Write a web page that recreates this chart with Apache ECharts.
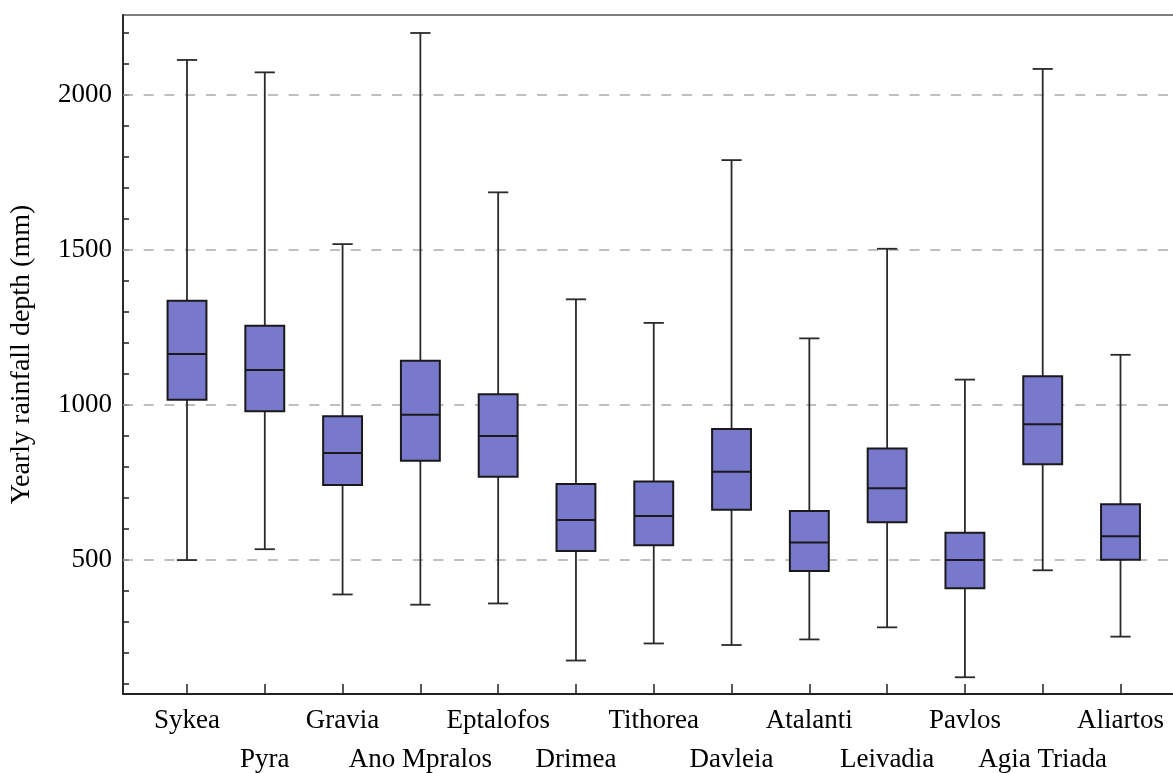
<!DOCTYPE html>
<html>
<head>
<meta charset="utf-8">
<script src="https://cdn.jsdelivr.net/npm/echarts@6/dist/echarts.min.js"></script>
<style>html,body{margin:0;padding:0;background:#fff;}#c{width:1173px;height:773px;}</style>
</head>
<body>
<div id="c"></div>
<script>
const categories = ['Sykea','Pyra','Gravia','Ano Mpralos','Eptalofos','Drimea','Tithorea','Davleia','Atalanti','Leivadia','Pavlos','Agia Triada','Aliartos'];
const minValues    = [500, 535, 389, 356, 360, 176, 231, 226, 244, 283, 122, 467, 253];
const q1Values     = [1017, 980, 742, 820, 769, 529, 548, 662, 465, 622, 409, 809, 501];
const medianValues = [1165, 1113, 845, 969, 900, 629, 642, 785, 557, 732, 500, 938, 577];
const q3Values     = [1336, 1256, 964, 1143, 1035, 745, 753, 923, 658, 860, 588, 1093, 680];
const maxValues    = [2113, 2073, 1519, 2200, 1686, 1341, 1265, 1790, 1215, 1504, 1082, 2084, 1162];
const yTickValues  = [100,200,300,400,500,600,700,800,900,1000,1100,1200,1300,1400,1500,1600,1700,1800,1900,2000,2100,2200];
const yLabelValues = [500, 1000, 1500, 2000];
const gridValues   = [500, 1000, 1500, 2000];
const yMin = 68, yMax = 2258;

const boxData = categories.map((c, i) => [i, minValues[i], q1Values[i], medianValues[i], q3Values[i], maxValues[i]]);

const FONT = '"Liberation Serif", "Times New Roman", serif';

function renderBox(params, api) {
  const idx = api.value(0);
  const band = api.size([1, 0])[0];
  const bw = band * 0.5, cw = band * 0.26;
  const pMin = api.coord([idx, api.value(1)]);
  const pQ1 = api.coord([idx, api.value(2)]);
  const pMed = api.coord([idx, api.value(3)]);
  const pQ3 = api.coord([idx, api.value(4)]);
  const pMax = api.coord([idx, api.value(5)]);
  const x = pMed[0];
  const wl = {stroke: '#2a2a2a', lineWidth: 1.8};
  return {
    type: 'group',
    children: [
      {type: 'line', shape: {x1: x, y1: pQ3[1], x2: x, y2: pMax[1]}, style: wl},
      {type: 'line', shape: {x1: x, y1: pQ1[1], x2: x, y2: pMin[1]}, style: wl},
      {type: 'line', shape: {x1: x - cw/2, y1: pMax[1], x2: x + cw/2, y2: pMax[1]}, style: wl},
      {type: 'line', shape: {x1: x - cw/2, y1: pMin[1], x2: x + cw/2, y2: pMin[1]}, style: wl},
      {type: 'rect', shape: {x: x - bw/2, y: pQ3[1], width: bw, height: pQ1[1] - pQ3[1]},
       style: {fill: '#7878cc', stroke: '#1a1a1a', lineWidth: 2}},
      {type: 'line', shape: {x1: x - bw/2, y1: pMed[1], x2: x + bw/2, y2: pMed[1]}, style: {stroke: '#1a1a1a', lineWidth: 2}}
    ]
  };
}

const chart = echarts.init(document.getElementById('c'), null, {renderer: 'canvas'});
chart.setOption({
  backgroundColor: '#fff',
  animation: false,
  grid: [
    {left: 123, top: 15, right: -10, bottom: 79, outerBoundsMode: 'none', containLabel: false,
     show: true, borderColor: '#555', borderWidth: 1.5, backgroundColor: 'transparent'},
    {left: 148.1, top: 15, width: 1011.3, bottom: 79, outerBoundsMode: 'none', containLabel: false}
  ],
  xAxis: [
    {gridIndex: 0, type: 'value', min: 0, max: 1,
     axisLine: {show: true, lineStyle: {color: '#222', width: 1.8}},
     axisTick: {show: false}, axisLabel: {show: false}, splitLine: {show: false}},
    {gridIndex: 1, type: 'category', data: categories, boundaryGap: true,
     axisLine: {show: false},
     axisTick: {show: true, inside: true, length: 10, alignWithLabel: true, interval: 0, lineStyle: {color: '#222', width: 1.5}},
     axisLabel: {interval: 0, color: '#000', fontFamily: FONT, fontSize: 27, lineHeight: 39, margin: 7,
       formatter: (v, i) => (i % 2 === 1 ? '\n' + v : v)},
     splitLine: {show: false}}
  ],
  yAxis: [
    {gridIndex: 0, type: 'value', min: yMin, max: yMax,
     name: 'Yearly rainfall depth (mm)', nameLocation: 'middle', nameGap: 87,
     nameTextStyle: {fontFamily: FONT, fontSize: 28, color: '#000'},
     axisLine: {show: true, lineStyle: {color: '#222', width: 1.8}},
     axisTick: {show: true, inside: true, length: 6, customValues: yTickValues, lineStyle: {color: '#222', width: 1.5}},
     axisLabel: {customValues: yLabelValues, color: '#000', fontFamily: FONT, fontSize: 27, margin: 11,
       formatter: v => String(v)},
     splitLine: {show: false}},
    {gridIndex: 1, type: 'value', min: yMin, max: yMax, show: false,
     axisLine: {show: false}, axisTick: {show: false}, axisLabel: {show: false}, splitLine: {show: false}}
  ],
  series: [
    {type: 'line', xAxisIndex: 0, yAxisIndex: 0, data: [], silent: true, z: 1,
     markLine: {silent: true, symbol: 'none', label: {show: false},
       lineStyle: {color: '#aaaaaa', type: [10, 10.7], width: 1.6},
       data: gridValues.map(v => ({yAxis: v}))}},
    {type: 'custom', xAxisIndex: 1, yAxisIndex: 1, z: 5,
     renderItem: renderBox,
     encode: {x: 0, y: [1, 2, 3, 4, 5]},
     data: boxData}
  ]
});
</script>
</body>
</html>
